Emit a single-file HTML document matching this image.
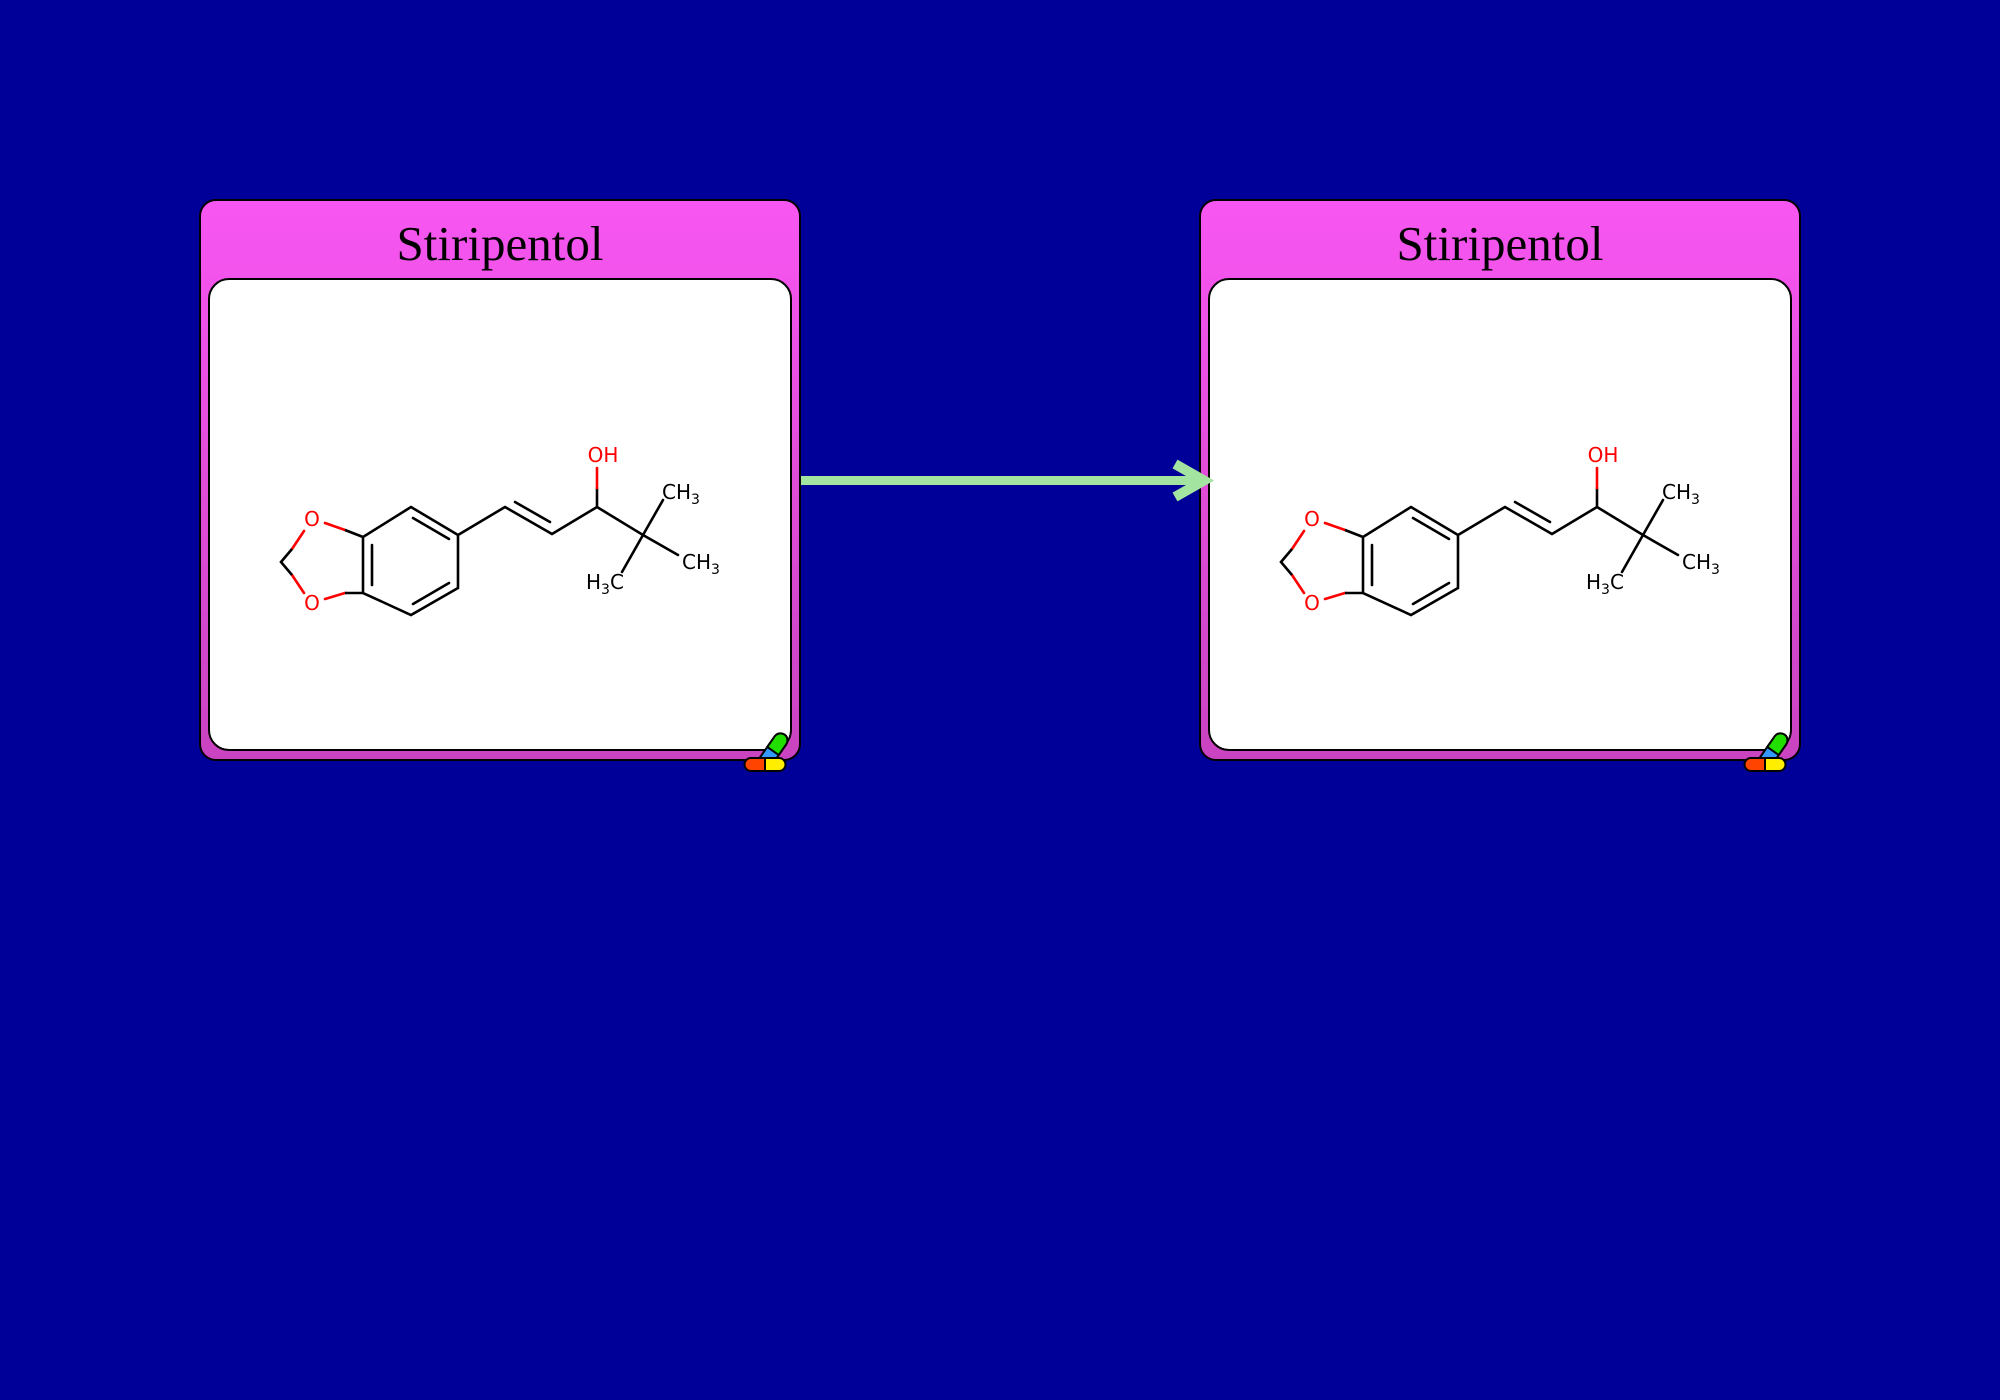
<!DOCTYPE html>
<html><head><meta charset="utf-8"><style>
html,body{margin:0;padding:0;width:2000px;height:1400px;background:#000099;overflow:hidden}
</style></head><body>
<svg width="2000" height="1400" viewBox="0 0 2000 1400" xmlns="http://www.w3.org/2000/svg">
<defs>
<linearGradient id="pk" x1="0" y1="0" x2="0" y2="1">
<stop offset="0" stop-color="#f856f2"/><stop offset="1" stop-color="#c943c0"/>
</linearGradient>
<g id="card">
<rect x="200" y="200" width="600" height="560" rx="16" fill="url(#pk)" stroke="#000" stroke-width="2"/>
<text x="500" y="260" text-anchor="middle" font-family="Liberation Serif, serif" font-size="49">Stiripentol</text>
<rect x="209" y="279" width="582" height="471" rx="20" fill="#fff" stroke="#000" stroke-width="2"/>
<g stroke="#000" stroke-width="2.6" fill="none" stroke-linecap="round">
<polyline points="363,537 411,507 458,535 458,588 411,615 363,593 363,537"/>
<line x1="372" y1="545" x2="372" y2="585"/>
<line x1="413" y1="518" x2="449" y2="539"/>
<line x1="413" y1="604" x2="449" y2="583"/>
<polyline points="458,535 505,507 552,534 597,507 643,535"/>
<line x1="515" y1="502" x2="550" y2="522"/>
<line x1="643" y1="535" x2="663" y2="500"/>
<line x1="643" y1="535" x2="678" y2="555"/>
<line x1="643" y1="535" x2="622" y2="572"/>
<line x1="597" y1="507" x2="597" y2="488"/>
</g>
<g stroke="#f00" stroke-width="2.6" fill="none" stroke-linecap="round">
<line x1="597" y1="488" x2="597" y2="468"/>
<line x1="325" y1="523" x2="345" y2="530"/>
<line x1="325" y1="599" x2="345" y2="593"/>
<line x1="304" y1="531" x2="292" y2="549"/>
<line x1="304" y1="593" x2="292" y2="575"/>
</g>
<g stroke="#000" stroke-width="2.6" fill="none">
<line x1="345" y1="530" x2="363" y2="537"/>
<line x1="345" y1="593" x2="363" y2="593"/>
<polyline points="292,549 281,562 292,575"/>
</g>
<g font-family="DejaVu Sans, sans-serif" font-size="20">
<text x="312" y="526" text-anchor="middle" fill="#f00">O</text>
<text x="312" y="610" text-anchor="middle" fill="#f00">O</text>
<text x="603" y="462" text-anchor="middle" fill="#f00">OH</text>
<text x="662" y="499">CH<tspan font-size="14" dy="5">3</tspan></text>
<text x="682" y="569">CH<tspan font-size="14" dy="5">3</tspan></text>
<text x="586" y="589">H<tspan font-size="14" dy="5">3</tspan><tspan dy="-5">C</tspan></text>
</g>
<g stroke="#000" stroke-width="2">
<g transform="translate(773,751) rotate(-55)">
<rect x="-20" y="-7" width="40" height="14" rx="7" fill="#3399ff"/>
<path d="M0,-7 H13 A7,7 0 0 1 13,7 H0 Z" fill="#22dd00"/>
</g>
<path d="M765,758 H751 A6.5,6.5 0 0 0 751,771 H765 Z" fill="#ff4400"/>
<path d="M765,758 H779 A6.5,6.5 0 0 1 779,771 H765 Z" fill="#ffee00"/>
</g>
</g>
</defs>
<use href="#card"/>
<use href="#card" transform="translate(1000,0)"/>
<line x1="801" y1="480.5" x2="1200" y2="480.5" stroke="#a2e4a0" stroke-width="9"/>
<polyline points="1175,464 1204,480.5 1175,497" fill="none" stroke="#a2e4a0" stroke-width="10"/>
</svg>
</body></html>
